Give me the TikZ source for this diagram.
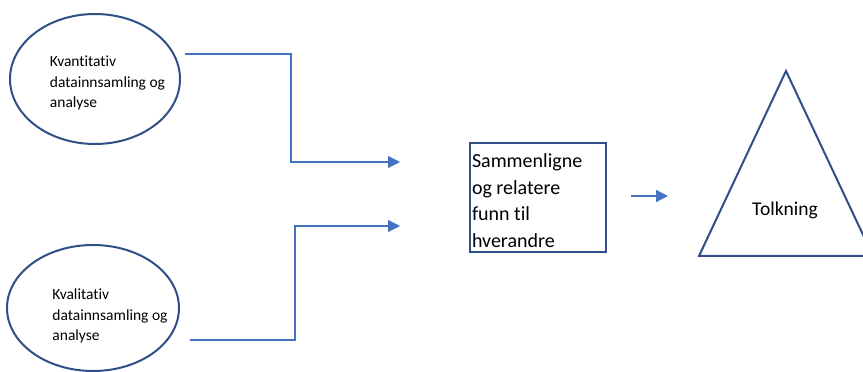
\documentclass[tikz,border=0pt]{standalone}
\usepackage{fontspec}
\setmainfont{Carlito}[Ligatures=CommonOff]
\usetikzlibrary{arrows.meta, positioning, shapes.geometric}
\definecolor{rimblue}{HTML}{2F4F86}
\definecolor{arrowblue}{HTML}{4472C4}

\begin{document}
\begin{tikzpicture}[x=1pt, y=1pt,
    datanode/.style={ellipse, draw=rimblue, line width=2pt, minimum width=170pt, minimum height=130pt},
    datatext/.style={align=left, inner sep=0pt, font=\fontsize{15.5}{20.5}\selectfont},
    flow/.style={draw=arrowblue, line width=1.3pt, -{Triangle[length=12pt, width=12pt]}}]
    \useasboundingbox (0,0) rectangle (863,372);
    \clip (0,0) rectangle (863,372);

    % Data collection
    \node[datanode] (kvant) at (95,293) {};
    \node[datatext] (kvanttext) at (107.5,289) {Kvantitativ\\datainnsamling og\\analyse};
    \node[datanode, minimum width=172pt, minimum height=126pt] (kval) at (93,64) {};
    \node[datatext] (kvaltext) at (110,56) {Kvalitativ\\datainnsamling og\\analyse};

    \coordinate (kvantout) at (185,318);
    \coordinate (kvalout) at (190,32);
    \coordinate (merge1) at (400,210);
    \coordinate (merge2) at (400,146);

    \draw[flow] (kvantout) -| ++(106,-108) -- (merge1);
    \draw[flow] (kvalout) -| ++(105,114) -- (merge2);

    % Comparison
    \node[draw=rimblue, line width=2pt, minimum width=136pt, minimum height=109pt,
          inner xsep=2pt, font=\fontsize{20}{26.5}\selectfont] (compare) at (538,174.5)
          {\parbox[c]{132pt}{\vspace*{6pt}Sammenligne\\og relatere\\funn til\\hverandre}};

    % Interpretation
    \coordinate (tolkleft) at (699,116);
    \coordinate (tolkright) at (873,116);
    \coordinate (tolktop) at (786,301);
    \draw[rimblue, line width=2pt, line join=miter] (tolkleft) -- (tolktop) -- (tolkright) -- cycle;
    \node[font=\fontsize{19.5}{24}\selectfont] (tolk) at (785,162) {Tolkning};

    \coordinate (compout) at (631,176);
    \coordinate (tolkin) at (668,176);
    \draw[flow] (compout) -- (tolkin);
\end{tikzpicture}
\end{document}
